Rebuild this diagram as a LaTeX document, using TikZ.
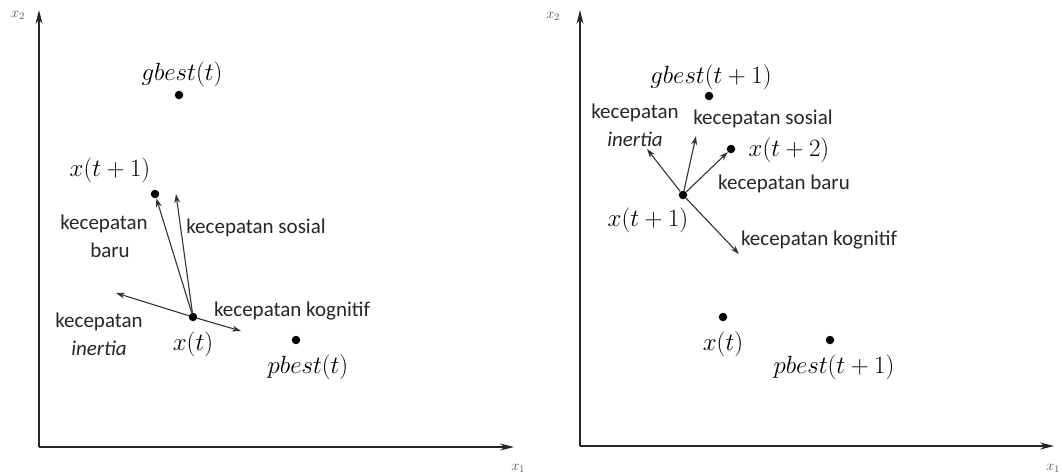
\documentclass[tikz,border=0pt]{standalone}
\usepackage{fontspec}
\newfontfamily\calib{Carlito}
\usetikzlibrary{arrows.meta}
\begin{document}
\begin{tikzpicture}[x=1pt,y=-1pt,
  dot/.style={circle,fill=black,inner sep=0pt,minimum size=8.5pt},
  vel/.style={-{Stealth[length=9pt,width=6pt]},line width=1.1pt,black!80},
  axis/.style={-{Stealth[length=14pt,width=7pt]},line width=1.4pt,black!85},
  lbl/.style={font=\calib\fontsize{21}{25}\selectfont,inner sep=0pt,text=black!85},
  mlbl/.style={font=\fontsize{24.5}{28}\selectfont,inner sep=0pt},
  axl/.style={font=\fontsize{14}{16}\selectfont,inner sep=0pt,text=black!70}]
\useasboundingbox (0,0) rectangle (1062,475);
% ---------- left panel ----------
\coordinate (O1) at (39,447);
\coordinate (Y1) at (39,10);
\coordinate (X1) at (514,447);
\draw[axis] (O1) -- (Y1);
\draw[axis] (O1) -- (X1);
\node[axl] (x2a) at (18,15) {$x_2$};
\node[axl] (x1a) at (518,468) {$x_1$};
\node[dot] (gb1) at (179,95) {};
\node[mlbl] (gb1l) at (182,74) {$gbest(t)$};
\node[dot] (xt1) at (155,194) {};
\node[mlbl] (xt1l) at (110,170) {$x(t+1)$};
\node[dot] (xt) at (193,317) {};
\node[mlbl] (xtl) at (193,344) {$x(t)$};
\node[dot] (pb1) at (296,340) {};
\node[mlbl] (pb1l) at (308,367) {$pbest(t)$};
\coordinate (soc1) at (176,194);
\coordinate (in1) at (116,293);
\coordinate (kog1) at (241,331);
\draw[vel] (xt) -- (xt1);
\draw[vel] (xt) -- (soc1);
\draw[vel] (xt) -- (in1);
\draw[vel] (xt) -- (kog1);
\node[lbl] (lb1a) at (104,224) {kecepatan};
\node[lbl] (lb1b) at (110,250) {baru};
\node[lbl] (ls1) at (256,228) {kecepatan sosial};
\node[lbl] (lk1) at (292,311) {kecepatan kognitif};
\node[lbl] (li1a) at (99,322) {kecepatan};
\node[lbl] (li1b) at (99,348) {\itshape inertia};
% ---------- right panel ----------
\coordinate (O2) at (580,446);
\coordinate (Y2) at (580,10);
\coordinate (X2) at (1054,446);
\draw[axis] (O2) -- (Y2);
\draw[axis] (O2) -- (X2);
\node[axl] (x2b) at (553,16) {$x_2$};
\node[axl] (x1b) at (1053,468) {$x_1$};
\node[dot] (gb2) at (709,96) {};
\node[mlbl] (gb2l) at (711,77) {$gbest(t+1)$};
\node[dot] (xu1) at (683,195) {};
\node[mlbl] (xu1l) at (648,220) {$x(t+1)$};
\node[dot] (xu2) at (731,149) {};
\node[mlbl] (xu2l) at (789,150) {$x(t+2)$};
\node[dot] (xu0) at (723,317) {};
\node[mlbl] (xu0l) at (723,344) {$x(t)$};
\node[dot] (pb2) at (830,340) {};
\node[mlbl] (pb2l) at (834,367) {$pbest(t+1)$};
\coordinate (in2) at (647,149);
\coordinate (soc2) at (696,136);
\coordinate (kog2) at (739,254);
\draw[vel] (xu1) -- (in2);
\draw[vel] (xu1) -- (soc2);
\draw[vel] (xu1) -- (xu2);
\draw[vel] (xu1) -- (kog2);
\node[lbl] (li2a) at (635,113) {kecepatan};
\node[lbl] (li2b) at (635,139) {\itshape inertia};
\node[lbl] (ls2) at (763,119) {kecepatan sosial};
\node[lbl] (lb2) at (784,184) {kecepatan baru};
\node[lbl] (lk2) at (819,240) {kecepatan kognitif};
\end{tikzpicture}
\end{document}
